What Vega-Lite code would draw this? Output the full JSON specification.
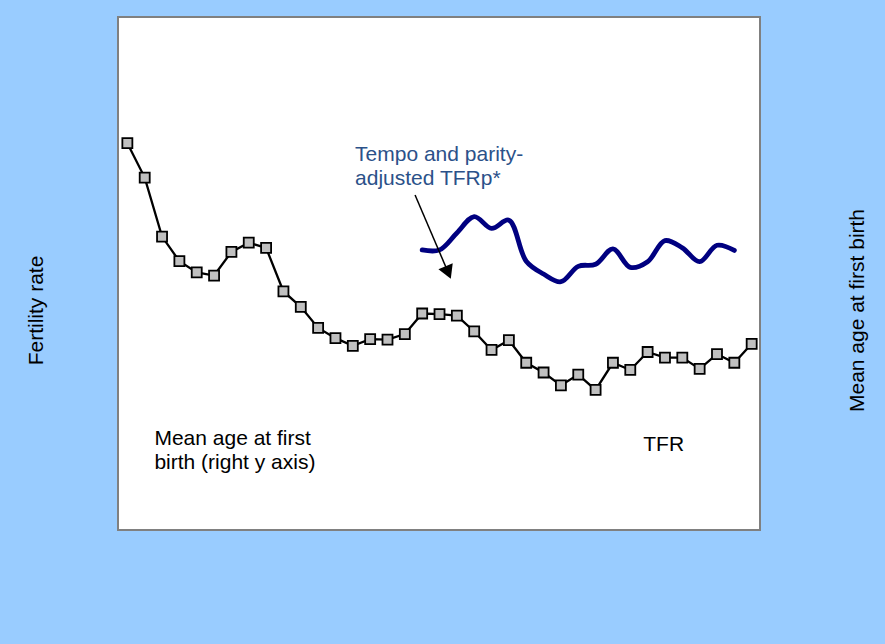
{
  "$schema": "https://vega.github.io/schema/vega-lite/v6.json",
  "width": 642,
  "height": 513,
  "autosize": "none",
  "padding": {"left": 118, "top": 17, "right": 125, "bottom": 114},
  "background": "#99ccff",
  "config": {
    "font": "Liberation Sans",
    "view": {"fill": "white", "stroke": "#808080", "strokeWidth": 2}
  },
  "datasets": {
    "tfr": [
      {"year": 1970, "rate": 2.262}, {"year": 1971, "rate": 2.061}, {"year": 1972, "rate": 1.716},
      {"year": 1973, "rate": 1.572}, {"year": 1974, "rate": 1.506}, {"year": 1975, "rate": 1.488},
      {"year": 1976, "rate": 1.626}, {"year": 1977, "rate": 1.680}, {"year": 1978, "rate": 1.650},
      {"year": 1979, "rate": 1.395}, {"year": 1980, "rate": 1.305}, {"year": 1981, "rate": 1.182},
      {"year": 1982, "rate": 1.122}, {"year": 1983, "rate": 1.077}, {"year": 1984, "rate": 1.116},
      {"year": 1985, "rate": 1.113}, {"year": 1986, "rate": 1.146}, {"year": 1987, "rate": 1.266},
      {"year": 1988, "rate": 1.263}, {"year": 1989, "rate": 1.254}, {"year": 1990, "rate": 1.161},
      {"year": 1991, "rate": 1.053}, {"year": 1992, "rate": 1.110}, {"year": 1993, "rate": 0.978},
      {"year": 1994, "rate": 0.921}, {"year": 1995, "rate": 0.846}, {"year": 1996, "rate": 0.909},
      {"year": 1997, "rate": 0.819}, {"year": 1998, "rate": 0.978}, {"year": 1999, "rate": 0.936},
      {"year": 2000, "rate": 1.041}, {"year": 2001, "rate": 1.008}, {"year": 2002, "rate": 1.008},
      {"year": 2003, "rate": 0.942}, {"year": 2004, "rate": 1.029}, {"year": 2005, "rate": 0.978},
      {"year": 2006, "rate": 1.089}
    ],
    "adjusted": [
      {"year": 1987, "rate": 1.638}, {"year": 1988, "rate": 1.638}, {"year": 1989, "rate": 1.737},
      {"year": 1990, "rate": 1.833}, {"year": 1991, "rate": 1.764}, {"year": 1992, "rate": 1.812},
      {"year": 1993, "rate": 1.572}, {"year": 1994, "rate": 1.497}, {"year": 1995, "rate": 1.452},
      {"year": 1996, "rate": 1.542}, {"year": 1997, "rate": 1.554}, {"year": 1998, "rate": 1.644},
      {"year": 1999, "rate": 1.536}, {"year": 2000, "rate": 1.569}, {"year": 2001, "rate": 1.692},
      {"year": 2002, "rate": 1.650}, {"year": 2003, "rate": 1.569}, {"year": 2004, "rate": 1.665},
      {"year": 2005, "rate": 1.635}
    ]
  },
  "layer": [
    {
      "data": {"name": "tfr"},
      "mark": {"type": "line", "color": "black", "strokeWidth": 2.3},
      "encoding": {
        "x": {
          "field": "year", "type": "quantitative",
          "scale": {"domain": [1969.46, 2006.48], "nice": false, "zero": false},
          "axis": null
        },
        "y": {
          "field": "rate", "type": "quantitative",
          "scale": {"domain": [0, 3], "nice": false, "zero": false},
          "axis": {
            "title": "Fertility rate", "labels": false, "ticks": false, "domain": false, "grid": false,
            "titleAngle": 270, "titleX": -82, "titleY": 293, "titleAlign": "center", "titleBaseline": "middle",
            "titleFontSize": 21, "titleFontWeight": "normal", "titleColor": "black", "titleFont": "Liberation Sans"
          }
        }
      }
    },
    {
      "data": {"name": "tfr"},
      "mark": {"type": "point", "shape": "square", "filled": true, "size": 100, "fill": "#c0c0c0", "stroke": "black", "strokeWidth": 1.8, "opacity": 1},
      "encoding": {
        "x": {"field": "year", "type": "quantitative"},
        "y": {"field": "rate", "type": "quantitative", "axis": null}
      }
    },
    {
      "data": {"name": "adjusted"},
      "mark": {"type": "line", "color": "#000080", "strokeWidth": 4.8, "interpolate": "catmull-rom", "strokeCap": "round"},
      "encoding": {
        "x": {"field": "year", "type": "quantitative"},
        "y": {
          "field": "rate", "type": "quantitative",
          "axis": {
            "orient": "right", "title": "Mean age at first birth", "labels": false, "ticks": false, "domain": false, "grid": false,
            "titleAngle": 270, "titleX": 97, "titleY": 293, "titleAlign": "center", "titleBaseline": "middle",
            "titleFontSize": 21, "titleFontWeight": "normal", "titleColor": "black", "titleFont": "Liberation Sans"
          }
        }
      }
    },
    {
      "data": {"values": [{}]},
      "mark": {"type": "rule", "color": "black", "strokeWidth": 1.5},
      "encoding": {
        "x": {"datum": 1986.59}, "y": {"datum": 1.959, "axis": null},
        "x2": {"datum": 1988.5}, "y2": {"datum": 1.506}
      }
    },
    {
      "data": {"values": [{}]},
      "mark": {"type": "point", "shape": "triangle-down", "filled": true, "color": "black", "size": 240, "angle": -23, "opacity": 1},
      "encoding": {"x": {"datum": 1988.5}, "y": {"datum": 1.506, "axis": null}}
    },
    {
      "data": {"values": [{}]},
      "mark": {"type": "text", "text": ["Tempo and parity-", "adjusted TFRp*"], "align": "left", "baseline": "alphabetic", "fontSize": 21, "lineHeight": 24, "color": "#2b5189"},
      "encoding": {"x": {"datum": 1983.13}, "y": {"datum": 2.157, "axis": null}}
    },
    {
      "data": {"values": [{}]},
      "mark": {"type": "text", "text": ["Mean age at first", "birth (right y axis)"], "align": "left", "baseline": "alphabetic", "fontSize": 21, "lineHeight": 24, "color": "black"},
      "encoding": {"x": {"datum": 1971.56}, "y": {"datum": 0.496, "axis": null}}
    },
    {
      "data": {"values": [{}]},
      "mark": {"type": "text", "text": "TFR", "align": "left", "baseline": "alphabetic", "fontSize": 21, "color": "black"},
      "encoding": {"x": {"datum": 1999.75}, "y": {"datum": 0.464, "axis": null}}
    }
  ],
  "resolve": {"axis": {"y": "independent"}}
}
